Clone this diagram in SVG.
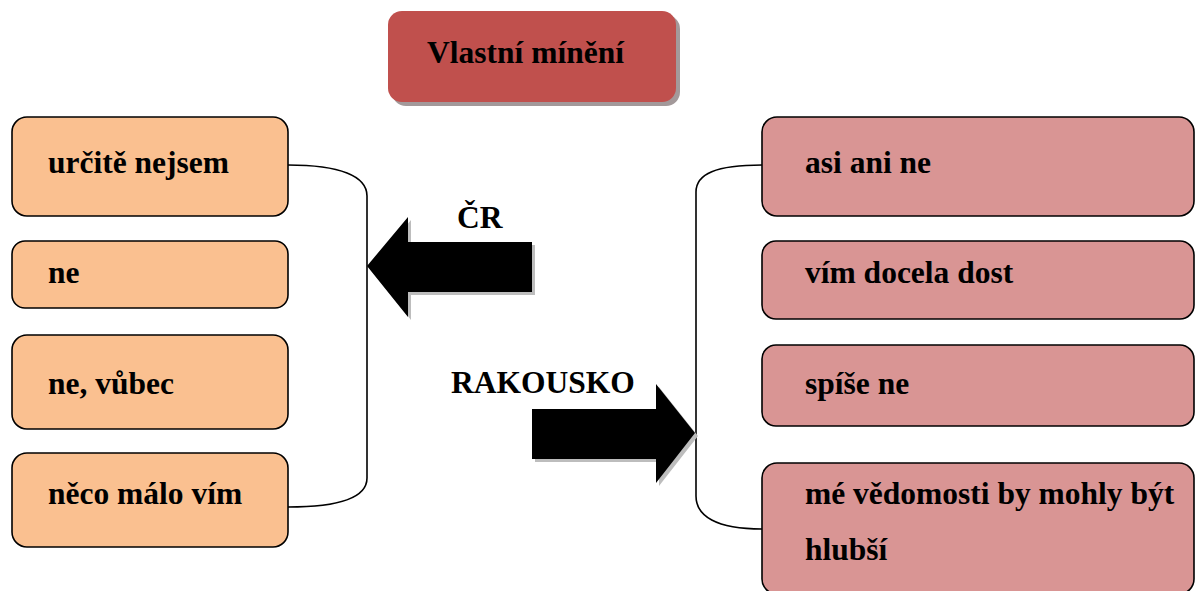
<svg xmlns="http://www.w3.org/2000/svg" width="1195" height="591" viewBox="0 0 1195 591">
  <defs>
    <style>
      .lbl { font-family: "Liberation Serif", "Times New Roman", serif; font-weight: bold; font-size: 31.5px; fill: #000; }
      .left { fill: #FAC090; stroke: #000; stroke-width: 1.6; }
      .right { fill: #D99594; stroke: #000; stroke-width: 1.6; }
      .conn { fill: none; stroke: #000; stroke-width: 1.6; }
      .arrow { fill: #000; }
      .arrow-shadow { fill: #bdbdbd; }
    </style>
  </defs>
  <rect width="1195" height="591" fill="#fff"/>

  <!-- title -->
  <g id="title">
    <rect x="392" y="15" width="288" height="91" rx="14" fill="#a3999a"/>
    <rect x="388" y="11" width="288" height="91" rx="14" fill="#C0504D"/>
    <text class="lbl" x="427" y="63">Vlastní mínění</text>
  </g>

  <!-- connectors (brackets) -->
  <g id="connectors">
    <path class="conn" d="M288,165 C340,165 367,176 367,196 L367,478 C367,498 340,507 288,507"/>
    <path class="conn" d="M762,165 C716,165 696,174 696,192 L696,496 C696,516 716,529 762,529"/>
  </g>

  <!-- left group -->
  <g id="left-1">
    <rect class="left" x="12" y="117" width="276" height="99" rx="15"/>
    <text class="lbl" x="48" y="173">určitě nejsem</text>
  </g>
  <g id="left-2">
    <rect class="left" x="12" y="241" width="276" height="67" rx="13"/>
    <text class="lbl" x="48" y="283">ne</text>
  </g>
  <g id="left-3">
    <rect class="left" x="12" y="335" width="276" height="94" rx="15"/>
    <text class="lbl" x="48" y="394">ne, vůbec</text>
  </g>
  <g id="left-4">
    <rect class="left" x="12" y="453" width="276" height="94" rx="15"/>
    <text class="lbl" x="48" y="504">něco málo vím</text>
  </g>

  <!-- right group -->
  <g id="right-1">
    <rect class="right" x="762" y="117" width="432" height="99" rx="15"/>
    <text class="lbl" x="805" y="173">asi ani ne</text>
  </g>
  <g id="right-2">
    <rect class="right" x="762" y="241" width="432" height="78" rx="14"/>
    <text class="lbl" x="805" y="283">vím docela dost</text>
  </g>
  <g id="right-3">
    <rect class="right" x="762" y="345" width="432" height="81" rx="14"/>
    <text class="lbl" x="805" y="394">spíše ne</text>
  </g>
  <g id="right-4">
    <rect class="right" x="762" y="463" width="432" height="131" rx="15"/>
    <text class="lbl" x="805" y="504">mé vědomosti by mohly být</text>
    <text class="lbl" x="805" y="560">hlubší</text>
  </g>

  <!-- block arrows -->
  <g id="arrow-cr">
    <polygon class="arrow-shadow" points="370,269 411,220 411,245 535,245 535,295 411,295 411,320"/>
    <polygon class="arrow" points="367,266 408,217 408,242 532,242 532,292 408,292 408,317"/>
    <text class="lbl" x="457" y="228">ČR</text>
  </g>
  <g id="arrow-rakousko">
    <polygon class="arrow-shadow" points="535,412 659,412 659,387 698,436 659,486 659,462 535,462"/>
    <polygon class="arrow" points="532,409 656,409 656,384 695,433 656,483 656,459 532,459"/>
    <text class="lbl" x="451" y="393">RAKOUSKO</text>
  </g>
</svg>
